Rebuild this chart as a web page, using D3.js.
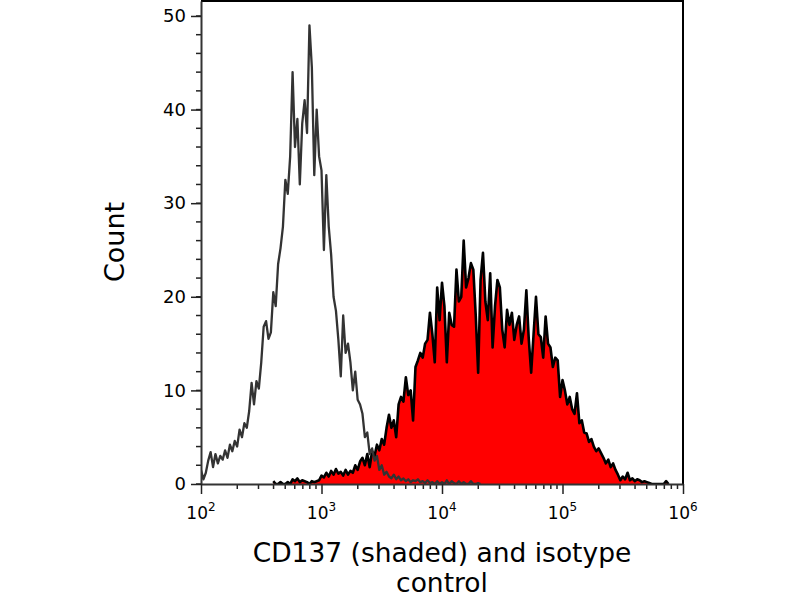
<!DOCTYPE html>
<html>
<head>
<meta charset="utf-8">
<script src="https://cdn.jsdelivr.net/npm/d3@7"></script>
<style>
  body { margin: 0; background: #fff; }
  text { font-family: "DejaVu Sans", sans-serif; }
</style>
</head>
<body>
<svg id="chart" width="800" height="600"></svg>
<script>
// histogram bins, 0.02 decade wide
const binWidth = 0.02
const isotypeStart = 2.0 // log10 of first isotype bin
const cd137Start = 2.6 // log10 of first CD137 bin

// isotype control (open, grey line)
const isotypeCounts = [
  1.5, 0.5, 1.2, 2.5, 3.4, 1.8, 3.2, 2.2, 3.0, 2.6,
  3.6, 2.8, 4.2, 3.5, 4.6, 4.0, 5.8, 5.0, 6.5, 6.0,
  7.8, 10.8, 8.5, 11.0, 10.2, 13.0, 16.8, 17.4, 15.5, 16.2,
  20.5, 19.0, 23.5, 25.2, 27.5, 32.5, 31.0, 35.0, 44.0, 36.0,
  39.0, 32.0, 38.5, 41.0, 37.5, 49.0, 44.5, 33.0, 40.0, 35.0,
  33.5, 25.0, 33.0, 27.5, 24.5, 20.0, 18.5, 15.4, 11.5, 18.0,
  14.0, 15.0, 13.0, 10.0, 12.0, 9.0, 8.5, 7.5, 5.0, 5.5,
  3.2, 3.8, 2.5, 3.0, 1.5, 2.0, 1.0, 1.3, 0.8, 0.6,
  1.0, 0.5, 0.8, 0.4, 0.6, 0.3, 0.5, 0.2, 0.4, 0.3,
  0.5, 0.2, 0.3, 0.1, 0.4, 0.1, 0.2, 0, 0.3, 0,
  0.2, 0, 0.4, 0, 0.3, 0.1, 0, 0.3, 0, 0.2, 0, 0, 0.3, 0, 0, 0.1, 0
]

// CD137 (shaded, red)
const cd137Counts = [
  0.3, 0, 0, 0.2, 0, 0, 0.2, 0, 0.5, 0.3,
  0.6, 0.2, 0.4, 0.3, 0.2, 0, 0.3, 0.2, 0.3, 0.4,
  0.9, 0.7, 1.2, 0.8, 1.4, 1.0, 1.6, 1.1, 1.3, 0.9,
  1.5, 1.0, 1.4, 1.2, 2.0, 1.5, 2.4, 2.8, 2.0, 3.2,
  1.8, 3.5, 3.0, 4.2, 3.6, 4.8, 4.2, 6.0, 7.4, 6.0,
  6.8, 5.0, 8.5, 9.3, 8.8, 11.4, 9.5, 10.0, 6.8, 12.5,
  13.2, 14.0, 13.5, 15.0, 15.4, 18.3, 16.0, 13.0, 21.0, 17.5,
  21.5, 19.0, 13.0, 18.3, 17.0, 16.8, 22.9, 19.5, 20.0, 26.0,
  21.0, 22.0, 23.6, 22.9, 18.0, 11.9, 21.8, 24.7, 19.5, 17.5,
  22.5, 14.6, 19.0, 21.8, 21.0, 16.5, 14.6, 18.6, 17.0, 18.3,
  15.4, 17.0, 17.9, 15.0, 16.5, 20.7, 15.5, 11.9, 16.0, 20.0,
  16.0, 15.7, 13.5, 17.9, 15.0, 14.6, 12.5, 13.5, 13.2, 9.3,
  11.1, 10.0, 8.5, 9.3, 8.0, 7.5, 9.7, 6.5, 6.8, 5.5,
  5.4, 4.5, 4.8, 4.0, 3.5, 3.8, 3.3, 2.8, 2.2, 2.6,
  1.8, 2.2, 1.5, 1.0, 0.4, 0.8, 0.5, 1.2, 0.4, 0.6,
  0.3, 0.5, 0.4, 0.2, 0.3, 0.2, 0.1, 0, 0, 0, 0, 0, 0, 0.3, 0
]

const xTicks = [1e2, 1e3, 1e4, 1e5, 1e6]
const xTickExps = ['2', '3', '4', '5', '6']
const yTicks = [0, 10, 20, 30, 40, 50]
const yMax = 51.6

const plot = { left: 201, right: 683, top: 1, bottom: 484 }

const svg = d3.select('#chart')

const x = d3.scaleLog().domain([1e2, 1e6]).range([plot.left, plot.right])
const y = d3.scaleLinear().domain([0, yMax]).range([plot.bottom, plot.top])

// turn bin counts into {x, y} points
function toPoints(counts, start) {
  return counts.map((c, i) => ({ x: Math.pow(10, start + i * binWidth), y: c }))
}
const isotypePts = toPoints(isotypeCounts, isotypeStart)
const cd137Pts = toPoints(cd137Counts, cd137Start)

svg.append('clipPath').attr('id', 'clip')
  .append('rect')
  .attr('x', plot.left).attr('y', plot.top)
  .attr('width', plot.right - plot.left).attr('height', plot.bottom - plot.top)

const g = svg.append('g').attr('clip-path', 'url(#clip)')

const area = d3.area().x(d => x(d.x)).y0(y(0)).y1(d => y(d.y))
const line = d3.line().x(d => x(d.x)).y(d => y(d.y))

g.append('path').attr('d', area(cd137Pts)).attr('fill', '#ff0000')
g.append('path').attr('d', line(cd137Pts))
  .attr('fill', 'none').attr('stroke', '#000').attr('stroke-width', 2.6)
  .attr('stroke-linejoin', 'round')
g.append('path').attr('d', line(isotypePts))
  .attr('fill', 'none').attr('stroke', '#333').attr('stroke-width', 2.3)
  .attr('stroke-linejoin', 'round')

// frame (top and right)
svg.append('path')
  .attr('d', `M${plot.left},${plot.top}H${plot.right}V${plot.bottom}`)
  .attr('fill', 'none').attr('stroke', '#000').attr('stroke-width', 2)

// y axis
const yMinor = d3.range(0, 52, 2)
svg.append('g').selectAll('line').data(yMinor).join('line')
  .attr('x1', plot.left - 5).attr('x2', plot.left)
  .attr('y1', d => y(d)).attr('y2', d => y(d))
  .attr('stroke', '#222').attr('stroke-width', 1.5)

const yAxis = svg.append('g')
  .attr('transform', `translate(${plot.left},0)`)
  .call(d3.axisLeft(y).tickValues(yTicks).tickSize(10).tickPadding(5).tickSizeOuter(0))
yAxis.select('.domain').attr('stroke', '#333').attr('stroke-width', 2)
yAxis.selectAll('.tick line').attr('stroke', '#222').attr('stroke-width', 1.5)
yAxis.selectAll('.tick text').attr('font-size', 18).attr('fill', '#000')
  .style('font-family', '"DejaVu Sans", sans-serif')

// x axis
const xMinor = []
for (let k = 2; k < 6; k++) {
  for (let m = 2; m < 10; m++) xMinor.push(m * Math.pow(10, k))
}
svg.append('g').selectAll('line').data(xMinor).join('line')
  .attr('x1', d => x(d)).attr('x2', d => x(d))
  .attr('y1', plot.bottom).attr('y2', plot.bottom + 5)
  .attr('stroke', '#222').attr('stroke-width', 1.5)

const xAxis = svg.append('g')
  .attr('transform', `translate(0,${plot.bottom})`)
  .call(d3.axisBottom(x).tickValues(xTicks).tickSize(10).tickFormat('').tickSizeOuter(0))
xAxis.select('.domain').attr('stroke', '#333').attr('stroke-width', 2)
xAxis.selectAll('.tick line').attr('stroke', '#222').attr('stroke-width', 1.5)

const xLab = svg.append('g').selectAll('text').data(xTicks).join('text')
  .attr('x', d => x(d)).attr('y', 519)
  .attr('text-anchor', 'middle').attr('font-size', 17)
xLab.append('tspan').text('10')
xLab.append('tspan').attr('dy', -8).attr('font-size', 12).text((d, i) => xTickExps[i])

// axis titles
svg.append('text')
  .attr('transform', `translate(124,242) rotate(-90)`)
  .attr('text-anchor', 'middle').attr('font-size', 27)
  .text('Count')

svg.append('text')
  .attr('x', (plot.left + plot.right) / 2).attr('y', 562)
  .attr('text-anchor', 'middle').attr('font-size', 26.5)
  .text('CD137 (shaded) and isotype')
svg.append('text')
  .attr('x', (plot.left + plot.right) / 2).attr('y', 592)
  .attr('text-anchor', 'middle').attr('font-size', 26.5)
  .text('control')
</script>
</body>
</html>
